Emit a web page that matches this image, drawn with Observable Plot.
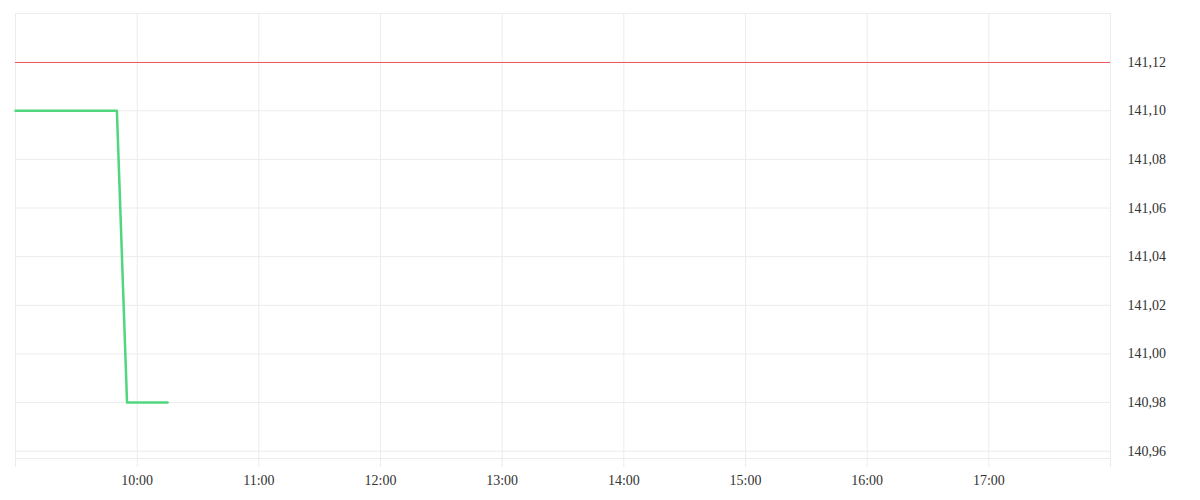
<!DOCTYPE html>
<html>
<head>
<meta charset="utf-8">
<script src="https://cdn.jsdelivr.net/npm/d3@7"></script>
<script src="https://cdn.jsdelivr.net/npm/@observablehq/plot@0.6"></script>
<style>
  html, body { margin: 0; padding: 0; background: #fff; }
</style>
</head>
<body>
<div id="chart"></div>
<script>
// Data
const day = "2024-01-02";
const times = ["09:00","09:05","09:10","09:15","09:20","09:25","09:30","09:35","09:40","09:45","09:50",
               "09:55","10:00","10:05","10:10","10:15"];
const prices = [141.10,141.10,141.10,141.10,141.10,141.10,141.10,141.10,141.10,141.10,141.10,
                140.98,140.98,140.98,140.98,140.98];
const referencePrice = 141.12;
const xTickHours = ["09:00","10:00","11:00","12:00","13:00","14:00","15:00","16:00","17:00","18:00"];
const yTicks = [140.96, 140.98, 141.00, 141.02, 141.04, 141.06, 141.08, 141.10, 141.12];
const yGrid = [140.96, 140.98, 141.00, 141.02, 141.04, 141.06, 141.08, 141.10, 141.12, 141.14];
const xStart = "09:00", xEnd = "18:00";
const yMin = 140.957, yMax = 141.14;

const toDate = t => new Date(`${day}T${t}:00Z`);
const data = times.map((t, i) => ({time: toDate(t), price: prices[i]}));
const hourTicks = xTickHours.map(toDate);
const firstTick = +hourTicks[0], lastTick = +hourTicks[hourTicks.length - 1];
const fmtTime = d3.utcFormat("%H:%M");

const chart = Plot.plot({
  width: 1200,
  height: 500,
  marginLeft: 15,
  marginRight: 90,
  marginTop: 13,
  marginBottom: 42,
  style: {fontFamily: "'Liberation Serif', serif", fontSize: "14px", color: "#333", background: "#fff"},
  x: {type: "utc", domain: [toDate(xStart), toDate(xEnd)]},
  y: {domain: [yMin, yMax]},
  marks: [
    Plot.gridY(yGrid, {stroke: "#ececec", strokeOpacity: 1}),
    Plot.gridX(hourTicks, {stroke: "#ececec", strokeOpacity: 1}),
    Plot.frame({stroke: "#ececec"}),
    Plot.axisX(hourTicks, {
      tickSize: 9, tickPadding: 8, stroke: "#ececec", strokeOpacity: 1,
      tickFormat: d => (+d === firstTick || +d === lastTick) ? "" : fmtTime(d),
      label: null, fill: "#333"
    }),
    Plot.axisY(yTicks, {
      anchor: "right", tickSize: 0, tickPadding: 17,
      tickFormat: d => d3.format(".2f")(d).replace(".", ","),
      label: null, fill: "#333"
    }),
    Plot.ruleY([referencePrice], {stroke: "#ee5a5e", strokeWidth: 1, shapeRendering: "crispEdges"}),
    Plot.line(data, {x: "time", y: "price", stroke: "#4fd67f", strokeWidth: 2.5})
  ]
});
document.getElementById("chart").appendChild(chart);
</script>
</body>
</html>
